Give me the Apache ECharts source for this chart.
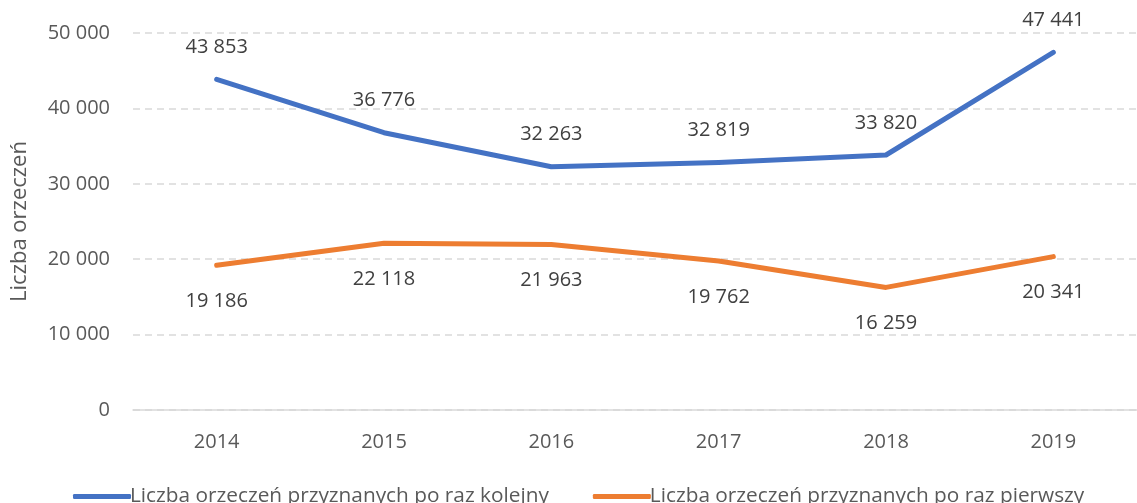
<!DOCTYPE html>
<html>
<head>
<meta charset="utf-8">
<script src="https://cdn.jsdelivr.net/npm/echarts@6/dist/echarts.min.js"></script>
<style>
  html, body { margin: 0; padding: 0; background: #fff; }
  #main { width: 1137px; height: 503px; }
</style>
</head>
<body>
<div id="main"></div>
<script>
const years = ['2014', '2015', '2016', '2017', '2018', '2019']
const kolejny = [43853, 36776, 32263, 32819, 33820, 47441]
const pierwszy = [19186, 22118, 21963, 19762, 16259, 20341]
const yTicks = [0, 10000, 20000, 30000, 40000, 50000]

// liczby z odstępem jako separatorem tysięcy
const fmt = (v) => String(v).replace(/\B(?=(\d{3})+(?!\d))/g, ' ')

const font = 'Open Sans'
const myChart = echarts.init(document.getElementById('main'))
const option = {
  animation: false,
  color: ['#4472C4', '#ED7D31'],
  textStyle: { fontFamily: font },
  grid: {
    left: 133,
    right: -15,
    top: 33,
    bottom: 93
  },
  legend: {
    top: 481,
    left: 68,
    itemWidth: 58,
    itemHeight: 5,
    itemGap: 44,
    icon: 'roundRect',
    textStyle: { fontSize: 20.8, color: '#595959', fontFamily: font, padding: [0, 0, 0, -6] },
    data: ['Liczba orzeczeń przyznanych po raz kolejny', 'Liczba orzeczeń przyznanych po raz pierwszy']
  },
  xAxis: {
    type: 'category',
    data: years,
    boundaryGap: true,
    axisTick: { show: false },
    axisLine: { lineStyle: { color: '#d9d9d9', width: 1.5 } },
    axisLabel: { fontSize: 20, color: '#595959', margin: 22 }
  },
  yAxis: {
    type: 'value',
    min: yTicks[0],
    max: yTicks[yTicks.length - 1],
    interval: 10000,
    name: 'Liczba orzeczeń',
    nameLocation: 'middle',
    nameGap: 102,
    nameTextStyle: { fontSize: 22, color: '#595959' },
    axisLine: { show: false },
    axisTick: { show: false },
    axisLabel: { fontSize: 20, color: '#595959', margin: 23, formatter: fmt },
    splitLine: { lineStyle: { color: '#d9d9d9', type: [7, 5], width: 1.5 } }
  },
  series: [
    {
      name: 'Liczba orzeczeń przyznanych po raz kolejny',
      type: 'line',
      data: kolejny,
      symbol: 'circle',
      symbolSize: 0,
      lineStyle: { width: 5, cap: 'round', join: 'round' },
      label: {
        show: true,
        position: 'top',
        distance: 22,
        fontSize: 20,
        color: '#404040',
        formatter: (p) => fmt(p.value)
      }
    },
    {
      name: 'Liczba orzeczeń przyznanych po raz pierwszy',
      type: 'line',
      data: pierwszy,
      symbol: 'circle',
      symbolSize: 0,
      lineStyle: { width: 5, cap: 'round', join: 'round' },
      label: {
        show: true,
        position: 'bottom',
        distance: 26,
        fontSize: 20,
        color: '#404040',
        formatter: (p) => fmt(p.value)
      }
    }
  ]
}
myChart.setOption(option)
</script>
</body>
</html>
